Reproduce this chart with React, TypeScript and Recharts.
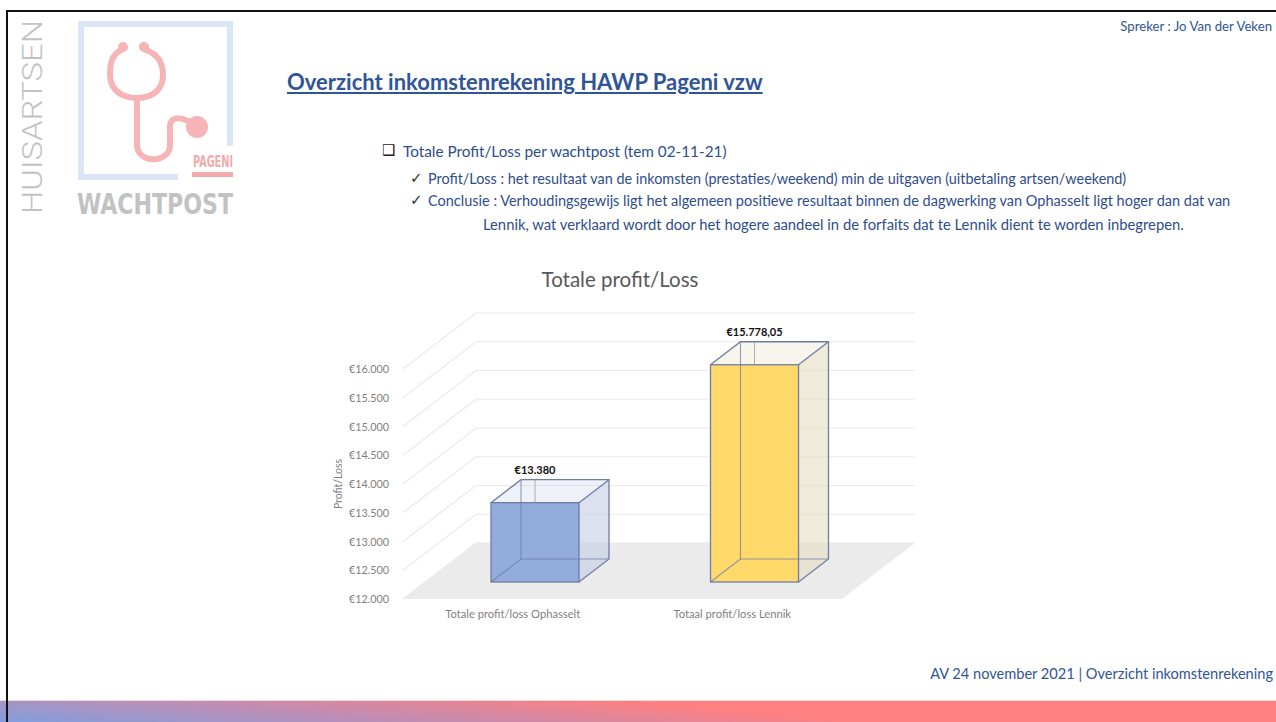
import React from 'react'
import { BarChart, Bar, XAxis, YAxis, CartesianGrid } from 'recharts'

const categories = ['Totale profit/loss Ophasselt', 'Totaal profit/loss Lennik']
const profitLoss = [13380, 15778.05]
const yTicks = [12000, 12500, 13000, 13500, 14000, 14500, 15000, 15500, 16000]

const data = categories.map((name, i) => ({ name, value: profitLoss[i] }))

const boxColors = [
  { front: '#8EA9DB', side: '#C3CDE3', top: '#D5DCEC' },
  { front: '#FFD966', side: '#E6DCC0', top: '#EEE6D2' },
]

// oblique projection offsets, relative to the plane the bars' front faces sit in
const FRONT = { dx: -22, dy: 17 } // floor front edge, axis labels
const DEPTH = { dx: 30, dy: -23 } // bar depth
const BACK = { dx: 51, dy: -39 } // back wall

const FONT = 'Lato, "Open Sans", sans-serif'
const EDGE = '#6F7CA8'

const euro = (v: number) => {
  const [int, dec] = v.toFixed(2).split('.')
  const s = int.replace(/\B(?=(\d{3})+(?!\d))/g, '.')
  return '€' + s + (dec === '00' ? '' : ',' + dec)
}

const gridLine = (p: any) => {
  const { x1, x2, y1 } = p
  const isFloor = Math.abs(y1 - (p.y + p.height)) < 0.5
  const fx = x1 + FRONT.dx
  const fy = y1 + FRONT.dy
  const bx = x1 + BACK.dx
  const by = y1 + BACK.dy
  const bx2 = x2 + BACK.dx
  return (
    <g key={p.key}>
      {isFloor && (
        <polygon
          points={`${fx},${fy} ${x2 + FRONT.dx},${fy} ${bx2},${by} ${bx},${by}`}
          fill="#EBEBEB"
        />
      )}
      <polyline
        points={`${fx},${fy} ${bx},${by} ${bx2},${by}`}
        fill="none"
        stroke="#EAEAEA"
        strokeWidth={1.2}
      />
    </g>
  )
}

const Box3D = (p: any) => {
  const { x, y, width: w, height: h } = p
  const idx = p.index ?? categories.indexOf(p.payload?.name)
  const c = boxColors[idx] || boxColors[0]
  const { dx, dy } = DEPTH
  const value = p.payload?.value ?? profitLoss[idx]
  const cx = x + w / 2
  return (
    <g>
      <polygon
        points={`${x + w},${y} ${x + w + dx},${y + dy} ${x + w + dx},${y + h + dy} ${x + w},${y + h}`}
        fill={c.side}
        fillOpacity={0.6}
      />
      <polygon
        points={`${x},${y} ${x + dx},${y + dy} ${x + w + dx},${y + dy} ${x + w},${y}`}
        fill={c.top}
        fillOpacity={0.4}
      />
      <rect x={x} y={y} width={w} height={h} fill={c.front} fillOpacity={0.97} />
      {/* hidden edges, seen through the box */}
      <polyline
        points={`${x + dx},${y + dy} ${x + dx},${y + h + dy} ${x + w + dx},${y + h + dy}`}
        fill="none"
        stroke={EDGE}
        strokeOpacity={0.75}
        strokeWidth={1.1}
      />
      <line x1={x} y1={y + h} x2={x + dx} y2={y + h + dy} stroke={EDGE} strokeOpacity={0.75} strokeWidth={1.1} />
      {/* visible edges */}
      <rect x={x} y={y} width={w} height={h} fill="none" stroke={EDGE} strokeWidth={1.3} />
      <polyline
        points={`${x},${y} ${x + dx},${y + dy} ${x + w + dx},${y + dy} ${x + w + dx},${y + h + dy} ${x + w},${y + h}`}
        fill="none"
        stroke={EDGE}
        strokeWidth={1.3}
      />
      <line x1={x + w} y1={y} x2={x + w + dx} y2={y + dy} stroke={EDGE} strokeWidth={1.3} />
      <line x1={cx} y1={y + dy} x2={cx} y2={y} stroke="#9A9A9A" strokeWidth={0.8} />
      <text x={cx} y={y + dy - 6} textAnchor="middle" fontSize={11} fontWeight="bold" fill="#111" fontFamily={FONT}>
        {euro(value)}
      </text>
    </g>
  )
}

const XTick = ({ x, y, payload }: any) => (
  <text x={x + FRONT.dx} y={y + FRONT.dy + 19} textAnchor="middle" fontSize={11.2} fill="#7F7F7F" fontFamily={FONT}>
    {payload.value}
  </text>
)

const YTick = ({ x, y, payload }: any) => (
  <text x={x + FRONT.dx - 14} y={y + FRONT.dy + 4} textAnchor="end" fontSize={10.8} fill="#7F7F7F" fontFamily={FONT}>
    {euro(payload.value)}
  </text>
)

const YTitle = ({ viewBox }: any) => (
  <text
    transform={`translate(${viewBox.x + 12}, ${viewBox.y + viewBox.height / 2 + FRONT.dy}) rotate(-90)`}
    textAnchor="middle"
    fontSize={10.5}
    fill="#7F7F7F"
    fontFamily={FONT}
  >
    Profit/Loss
  </text>
)

const Logo = () => (
  <svg width={300} height={240} style={{ position: 'absolute', left: 0, top: 0 }}>
    <text
      transform="translate(42, 214) rotate(-90)"
      fontSize={27}
      fontWeight={300}
      fill="#C2C2C2"
      fontFamily="Roboto, 'DejaVu Sans'"
      textLength={194}
      lengthAdjust="spacingAndGlyphs"
    >
      HUISARTSEN
    </text>
    <polyline points="230,146 230,24 81,24 81,177 178,177" fill="none" stroke="#DAE6F5" strokeWidth={6} />
    <rect x={192} y={172} width={41} height={5} fill="#F4A9AB" />
    <text x={193} y={167} fontSize={16} fontWeight="bold" fill="#F4A9AB" fontFamily="'Liberation Sans Narrow', 'DejaVu Sans Condensed'" textLength={40} lengthAdjust="spacingAndGlyphs">
      PAGENI
    </text>
    <circle cx={123} cy={47} r={5} fill="#F6B4B6" />
    <circle cx={144} cy={47} r={5} fill="#F6B4B6" />
    <path
      d="M 121 50 C 111 55 110 65 110 75 C 110 90 122 98 137 98 C 152 98 163 90 163 75 C 163 65 160 55 146 50"
      fill="none"
      stroke="#F6B4B6"
      strokeWidth={6}
      strokeLinecap="round"
    />
    <path
      d="M 137 98 L 137 145 C 137 164 170 164 170 145 L 170 126 C 170 118 178 116 188 121"
      fill="none"
      stroke="#F6B4B6"
      strokeWidth={6}
      strokeLinecap="round"
    />
    <circle cx={197} cy={127} r={11} fill="#F6B4B6" />
    <text
      x={77}
      y={214}
      fontSize={28}
      fontWeight="bold"
      fill="#C2C2C2"
      fontFamily="'Liberation Sans Narrow', 'DejaVu Sans Condensed'"
      textLength={156}
      lengthAdjust="spacingAndGlyphs"
    >
      WACHTPOST
    </text>
  </svg>
)

const textBlue = '#2E4D8C'

export default function App() {
  return (
    <div
      style={{
        position: 'absolute',
        left: 0,
        top: 0,
        width: 1276,
        height: 722,
        overflow: 'hidden',
        background: '#fff',
        fontFamily: FONT,
      }}
    >
      <div style={{ position: 'absolute', left: 6, top: 10, width: 1270, height: 2, background: '#111' }} />
      <div style={{ position: 'absolute', left: 6, top: 10, width: 2, height: 712, background: '#111' }} />
      <Logo />

      <div style={{ position: 'absolute', right: 4, top: 18, fontSize: 13.2, color: '#2F5597', whiteSpace: 'nowrap' }}>
        Spreker : Jo Van der Veken
      </div>

      <div
        style={{
          position: 'absolute',
          left: 287,
          top: 68,
          fontSize: 22,
          fontWeight: 'bold',
          color: '#2F5597',
          textDecoration: 'underline',
          whiteSpace: 'nowrap',
        }}
      >
        Overzicht inkomstenrekening HAWP Pageni vzw
      </div>

      <div style={{ position: 'absolute', left: 382, top: 141, fontSize: 15, color: '#222', fontFamily: 'DejaVu Sans' }}>
        ❑
      </div>
      <div style={{ position: 'absolute', left: 403, top: 142, fontSize: 15.3, color: textBlue, whiteSpace: 'nowrap' }}>
        Totale Profit/Loss per wachtpost (tem 02-11-21)
      </div>
      <div style={{ position: 'absolute', left: 410, top: 169, fontSize: 15, color: '#333', fontFamily: 'DejaVu Sans' }}>
        ✓
      </div>
      <div style={{ position: 'absolute', left: 428, top: 170, fontSize: 14.4, color: textBlue, whiteSpace: 'nowrap' }}>
        Profit/Loss : het resultaat van de inkomsten (prestaties/weekend) min de uitgaven (uitbetaling artsen/weekend)
      </div>
      <div style={{ position: 'absolute', left: 410, top: 191, fontSize: 15, color: '#333', fontFamily: 'DejaVu Sans' }}>
        ✓
      </div>
      <div style={{ position: 'absolute', left: 428, top: 192, fontSize: 14.5, color: textBlue, whiteSpace: 'nowrap' }}>
        Conclusie : Verhoudingsgewijs ligt het algemeen positieve resultaat binnen de dagwerking van Ophasselt ligt hoger dan dat van
      </div>
      <div style={{ position: 'absolute', left: 483, top: 215, fontSize: 14.8, color: textBlue, whiteSpace: 'nowrap' }}>
        Lennik, wat verklaard wordt door het hogere aandeel in de forfaits dat te Lennik dient te worden inbegrepen.
      </div>

      <div style={{ position: 'absolute', left: 420, top: 267, width: 400, textAlign: 'center', fontSize: 20.5, color: '#595959' }}>
        Totale profit/Loss
      </div>

      <div style={{ position: 'absolute', left: 300, top: 250 }}>
        <BarChart width={640} height={400} data={data} margin={{ top: 102, right: 76, bottom: 38, left: 30 }} barSize={88}>
          <CartesianGrid vertical={false} horizontal={gridLine} />
          <XAxis dataKey="name" axisLine={false} tickLine={false} tickSize={0} tickMargin={0} height={30} tick={<XTick />} />
          <YAxis
            type="number"
            domain={[12000, 16000]}
            ticks={yTicks}
            axisLine={false}
            tickLine={false}
            tickSize={0}
            tickMargin={0}
            width={95}
            tick={<YTick />}
            label={YTitle}
          />
          <Bar dataKey="value" shape={Box3D} isAnimationActive={false} />
        </BarChart>
      </div>

      <div style={{ position: 'absolute', right: 3, top: 665, fontSize: 14.6, color: '#2F5597', whiteSpace: 'nowrap' }}>
        AV 24 november 2021 | Overzicht inkomstenrekening
      </div>

      <div
        style={{
          position: 'absolute',
          left: 0,
          top: 700,
          width: 1276,
          height: 22,
          borderTop: '1px solid #F3D6D6',
          background: 'linear-gradient(185deg, #FF8080 0%, #FF8080 42%, #C48CB0 70%, #7F9FDF 100%)',
        }}
      />
      <div style={{ position: 'absolute', left: 6, top: 700, width: 2, height: 22, background: '#111' }} />
    </div>
  )
}
